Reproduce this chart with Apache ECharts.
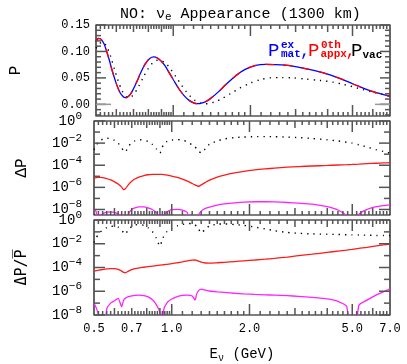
<!DOCTYPE html>
<html>
<head>
<meta charset="utf-8">
<script src="https://cdn.jsdelivr.net/npm/echarts@6/dist/echarts.min.js"></script>
<style>
  html, body { margin: 0; padding: 0; background: #fff; }
  #chart { width: 407px; height: 364px; }
</style>
</head>
<body>
<div id="chart"></div>
<script>
// neutrino energy (GeV)
const energy = [
  0.50, 0.51, 0.52, 0.53, 0.54, 0.56, 0.58, 0.60, 0.62, 0.64,
  0.65, 0.66, 0.68, 0.70, 0.72, 0.75, 0.78, 0.81, 0.84, 0.87,
  0.90, 0.915, 0.93, 0.96, 1.00, 1.05, 1.10, 1.15, 1.20, 1.23,
  1.25, 1.27, 1.30, 1.35, 1.40, 1.50, 1.60, 1.75, 1.90, 2.10,
  2.30, 2.50, 2.80, 3.10, 3.50, 4.00, 4.40, 4.76, 5.00, 5.30,
  5.70, 6.20, 6.60, 7.00
];
// top panel: probabilities (P_mat and P_appx^0th coincide on this scale)
const pMat = [
  0.118, 0.1245, 0.124, 0.1194, 0.112, 0.088, 0.0616, 0.0392, 0.0225, 0.0140,
  0.0128, 0.0133, 0.0189, 0.0294, 0.042, 0.0616, 0.0773, 0.0869, 0.0898, 0.0872,
  0.0811, 0.077, 0.0726, 0.0615, 0.047, 0.030, 0.0171, 0.008, 0.0028, 0.0015,
  0.0013, 0.0015, 0.0026, 0.0061, 0.0113, 0.0236, 0.037, 0.0538, 0.0656, 0.0736,
  0.0754, 0.0752, 0.0735, 0.070, 0.0645, 0.057, 0.050, 0.0435, 0.039, 0.034,
  0.028, 0.022, 0.0185, 0.0152
];
const pVac = [
  0.106, 0.111, 0.116, 0.118, 0.1157, 0.101, 0.0786, 0.0552, 0.035, 0.0207,
  0.0163, 0.0138, 0.0137, 0.0186, 0.027, 0.0432, 0.059, 0.0717, 0.0802, 0.0835,
  0.0824, 0.0806, 0.0781, 0.0717, 0.0596, 0.0443, 0.0302, 0.0183, 0.0096, 0.0059,
  0.0041, 0.0027, 0.0014, 0.0011, 0.0023, 0.0075, 0.0147, 0.0261, 0.0354, 0.0442,
  0.0489, 0.0506, 0.0505, 0.049, 0.0465, 0.0435, 0.040, 0.036, 0.0335, 0.030,
  0.0258, 0.0215, 0.0185, 0.0158
];
// middle panel: exponent (log10) of |dP|; -12 marks a zero crossing
const dPvacExp = [
  -2.6, -2.2, -1.9, -1.75, -1.65, -1.55, -1.6, -1.75, -2.0, -2.4,
  -2.7, -2.8, -2.3, -1.95, -1.8, -1.7, -1.72, -1.85, -2.1, -2.5,
  -2.9, -2.5, -2.1, -1.85, -1.72, -1.68, -1.72, -1.9, -2.15, -2.35,
  -2.5, -2.7, -2.9, -2.5, -2.1, -1.8, -1.62, -1.5, -1.45, -1.42,
  -1.41, -1.42, -1.45, -1.5, -1.58, -1.7, -1.8, -1.92, -2.0, -2.15,
  -2.35, -2.6, -2.75, -2.9
];
const dP0thExp = [
  -5.18, -5.12, -5.1, -5.1, -5.12, -5.2, -5.33, -5.5, -5.7, -5.98,
  -6.2, -6.15, -5.75, -5.45, -5.25, -5.05, -4.93, -4.86, -4.83, -4.82,
  -4.82, -4.83, -4.85, -4.9, -4.98, -5.1, -5.25, -5.43, -5.65, -5.77,
  -5.84, -5.9, -5.78, -5.55, -5.35, -5.08, -4.9, -4.7, -4.55, -4.42,
  -4.33, -4.26, -4.18, -4.12, -4.07, -4.02, -3.98, -3.95, -3.93, -3.9,
  -3.86, -3.82, -3.79, -3.77
];
const dP1stExp = [
  -7.95, -8.2, -12, -8.6, -8.4, -8.25, -8.22, -8.27, -8.4, -8.7,
  -9.0, -12, -8.4, -8.0, -7.85, -7.76, -7.76, -7.85, -8.0, -8.25,
  -9.0, -12, -8.6, -8.2, -8.02, -7.99, -8.05, -8.3, -12, -8.7,
  -12, -8.5, -8.15, -7.9, -7.78, -7.6, -7.5, -7.4, -7.33, -7.3,
  -7.3, -7.32, -7.37, -7.43, -7.52, -7.75, -8.05, -8.6, -12, -8.45,
  -8.0, -7.75, -7.65, -7.58
];
// bottom panel: exponent (log10) of |dP| / P-bar
const rVacExp = [
  -1.9, -1.5, -1.2, -1.0, -0.85, -0.65, -0.55, -0.5, -0.6, -0.85,
  -1.05, -1.2, -0.8, -0.55, -0.42, -0.38, -0.45, -0.65, -0.95, -1.5,
  -2.2, -1.8, -1.4, -0.95, -0.7, -0.5, -0.38, -0.3, -0.3, -0.4,
  -0.55, -0.75, -1.1, -0.75, -0.5, -0.35, -0.33, -0.38, -0.45, -0.6,
  -0.75, -0.9, -1.05, -1.12, -1.17, -1.2, -1.22, -1.24, -1.25, -1.26,
  -1.28, -1.3, -1.31, -1.32
];
const r0thExp = [
  -4.31, -4.27, -4.23, -4.2, -4.17, -4.12, -4.1, -4.1, -4.15, -4.3,
  -4.4, -4.44, -4.3, -4.18, -4.1, -4.03, -3.98, -3.93, -3.88, -3.84,
  -3.8, -3.78, -3.77, -3.73, -3.68, -3.6, -3.52, -3.44, -3.38, -3.37,
  -3.4, -3.46, -3.55, -3.62, -3.63, -3.6, -3.56, -3.5, -3.44, -3.37,
  -3.3, -3.23, -3.12, -3.0, -2.88, -2.73, -2.62, -2.53, -2.47, -2.39,
  -2.3, -2.18, -2.1, -2.02
];
const r1stExp = [
  -7.0, -7.4, -7.9, -8.4, -12, -7.5, -7.0, -6.8, -6.6, -7.3,
  -6.8, -6.6, -6.45, -6.38, -6.34, -6.33, -6.36, -6.48, -6.7, -7.1,
  -7.8, -12, -7.6, -6.95, -6.65, -6.45, -6.35, -6.32, -6.4, -6.75,
  -6.2, -5.95, -5.82, -5.9, -5.98, -6.05, -6.1, -6.17, -6.22, -6.27,
  -6.3, -6.33, -6.37, -6.43, -6.52, -6.65, -6.85, -7.3, -12, -7.2,
  -6.75, -6.3, -6.05, -5.8
];

// ticks and labels
const xLabels = [0.5, 0.7, 1.0, 2.0, 5.0, 7.0];
const xTickMajor = [1, 2, 5];
const xTickMid = [0.6, 0.7, 0.8, 0.9, 3, 4, 6];
const xTickMinor = [
  0.52, 0.54, 0.56, 0.58, 0.62, 0.64, 0.66, 0.68, 0.72, 0.74, 0.76, 0.78,
  0.82, 0.84, 0.86, 0.88, 0.92, 0.94, 0.96, 0.98,
  1.1, 1.2, 1.3, 1.4, 1.5, 1.6, 1.7, 1.8, 1.9,
  2.2, 2.4, 2.6, 2.8, 3.2, 3.4, 3.6, 3.8, 4.2, 4.4, 4.6, 4.8,
  5.2, 5.4, 5.6, 5.8, 6.2, 6.4, 6.6, 6.8
];
const pTickMajor = [0, 0.05, 0.1, 0.15];
const pTickMinor = [-0.02, -0.01, 0.01, 0.02, 0.03, 0.04, 0.06, 0.07, 0.08, 0.09, 0.11, 0.12, 0.13, 0.14];
const expTickMajor = [-8, -6, -4, -2, 0];
const expTickMinor = [-7, -5, -3, -1];

const FONT = '"Liberation Mono", "DejaVu Sans Mono", monospace';
const lg = Math.log10;
const xMin = lg(0.5), xMax = lg(7);
const yRange = [[-0.022, 0.15], [-8.5, 0], [-8, 0]];

const grids = [
  { top: 25, height: 91 },
  { top: 121, height: 94 },
  { top: 220, height: 99 }
].map(g => Object.assign({ left: 94, right: 17, show: true, borderColor: '#000', borderWidth: 1.2 }, g));

const hideTick = { show: false };
const expLabel = {
  show: true, margin: 12, customValues: expTickMajor, color: '#000',
  formatter: v => '{b|10}{s|' + (Math.round(v) === 0 ? '0' : '\u2212' + Math.round(-v)) + '}',
  rich: {
    b: { fontFamily: FONT, fontSize: 14, color: '#000' },
    s: { fontFamily: FONT, fontSize: 11, color: '#000', padding: [0, 0, 10, 0] }
  }
};
const nameStyle = { fontFamily: FONT, fontSize: 16, color: '#000' };

const xAxes = [0, 1, 2].map(g => ({
  type: 'value', gridIndex: g, min: xMin, max: xMax,
  axisLine: { show: false, onZero: false }, axisTick: hideTick, splitLine: { show: false },
  axisLabel: g < 2 ? { show: false } : {
    show: true, margin: 8, customValues: xLabels.map(lg), color: '#000',
    fontFamily: FONT, fontSize: 12, formatter: v => Math.pow(10, v).toFixed(1)
  },
  name: g < 2 ? '' : '{a|E}{s|\u03bd}{a| (GeV)}', nameLocation: 'middle', nameGap: 30,
  nameTextStyle: { rich: {
    a: { fontFamily: FONT, fontSize: 14, color: '#000' },
    s: { fontFamily: FONT, fontSize: 10, color: '#000', padding: [8, 0, 0, 0] }
  } }
}));

const yAxes = [
  {
    type: 'value', gridIndex: 0, min: yRange[0][0], max: yRange[0][1],
    axisLine: { show: false, onZero: false }, axisTick: hideTick, splitLine: { show: false },
    name: 'P', nameLocation: 'middle', nameGap: 72, nameTextStyle: nameStyle,
    axisLabel: { show: true, margin: 6, customValues: pTickMajor, color: '#000',
      fontFamily: FONT, fontSize: 12, formatter: v => v.toFixed(2) }
  },
  {
    type: 'value', gridIndex: 1, min: yRange[1][0], max: yRange[1][1],
    axisLine: { show: false, onZero: false }, axisTick: hideTick, splitLine: { show: false },
    name: '\u0394P', nameLocation: 'middle', nameGap: 64, nameTextStyle: nameStyle,
    axisLabel: expLabel
  },
  {
    type: 'value', gridIndex: 2, min: yRange[2][0], max: yRange[2][1],
    axisLine: { show: false, onZero: false }, axisTick: hideTick, splitLine: { show: false },
    name: '\u0394P/P\u0305', nameLocation: 'middle', nameGap: 64,
    nameTextStyle: Object.assign({}, nameStyle, { fontFamily: '"DejaVu Sans Mono", monospace', fontSize: 15 }),
    axisLabel: expLabel
  }
];

function pts(vals) {
  return energy.map((e, i) => [lg(e), vals[i]]);
}
function line(g, vals, color, dash, width, z, smooth) {
  return {
    type: 'line', xAxisIndex: g, yAxisIndex: g,
    data: pts(vals), symbol: 'none', smooth: smooth, z: z, silent: true,
    lineStyle: { color: color, width: width, type: dash, cap: 'butt' }
  };
}
const DOT = [1.3, 5];

// frame ticks on all four sides, placed through each grid's own axes
function tickSeries(g, yMajor, yMinor, yMajorLen, yMinorLen, grayZero) {
  const data = [];
  xTickMajor.forEach(v => data.push([lg(v), 0, 11]));
  xTickMid.forEach(v => data.push([lg(v), 0, 7]));
  xTickMinor.forEach(v => data.push([lg(v), 0, 4]));
  yMajor.forEach(v => data.push([v, 1, yMajorLen]));
  yMinor.forEach(v => data.push([v, 1, yMinorLen]));
  if (grayZero) data.push([0, 2, 15]);
  const yMid = (yRange[g][0] + yRange[g][1]) / 2;
  return {
    type: 'custom', xAxisIndex: g, yAxisIndex: g, silent: true, z: 6,
    encode: { x: -1, y: -1 },
    data: data,
    renderItem: (params, api) => {
      const cs = params.coordSys;
      const v = api.value(0), kind = api.value(1), len = api.value(2);
      const style = { stroke: kind === 2 ? '#999' : '#555', lineWidth: 1.5 };
      if (kind === 0) {
        const px = api.coord([v, yMid])[0];
        return { type: 'group', children: [
          { type: 'line', shape: { x1: px, y1: cs.y + cs.height, x2: px, y2: cs.y + cs.height - len }, style: style },
          { type: 'line', shape: { x1: px, y1: cs.y, x2: px, y2: cs.y + len }, style: style }
        ] };
      }
      const py = api.coord([xMin, v])[1];
      return { type: 'group', children: [
        { type: 'line', shape: { x1: cs.x, y1: py, x2: cs.x + len, y2: py }, style: style },
        { type: 'line', shape: { x1: cs.x + cs.width, y1: py, x2: cs.x + cs.width - len, y2: py }, style: style }
      ] };
    }
  };
}

const series = [
  line(0, pVac, '#000', DOT, 1.4, 2, 0.4),
  line(0, pMat, '#0000ff', 'solid', 1.3, 3, 0.4),
  line(0, pMat, '#ff0000', [9, 9], 1.3, 4, 0.4),
  line(1, dPvacExp, '#000', DOT, 1.4, 2, 0.2),
  line(1, dP0thExp, '#ff1a1a', 'solid', 1.3, 3, 0.3),
  line(1, dP1stExp, '#ff22ff', 'solid', 1.3, 3, 0.2),
  line(2, rVacExp, '#000', DOT, 1.4, 2, 0.2),
  line(2, r0thExp, '#ff1a1a', 'solid', 1.3, 3, 0.3),
  line(2, r1stExp, '#ff22ff', 'solid', 1.3, 3, 0.2),
  tickSeries(0, pTickMajor, pTickMinor, 10, 5, true),
  tickSeries(1, expTickMajor, expTickMinor, 11, 6, false),
  tickSeries(2, expTickMajor, expTickMinor, 11, 6, false)
];

// legend text (P^ex_mat, P^0th_appx, P_vac)
function txt(x, y, text, color, size, bold) {
  return { type: 'text', x: x, y: y, silent: true, z: 10,
    style: { text: text, fill: color, font: (bold ? 'bold ' : '') + size + 'px ' + FONT, textVerticalAlign: 'middle' } };
}
const legendText = [
  txt(268, 51, 'P', '#0000ff', 19), txt(281, 45, 'ex', '#0000ff', 11, true), txt(281, 54.5, 'mat', '#0000ff', 11, true),
  txt(300, 51, ',', '#0000ff', 17),
  txt(308, 51, 'P', '#ff0000', 19), txt(321, 45, '0th', '#ff0000', 11, true), txt(320.5, 54.5, 'appx', '#ff0000', 11, true),
  txt(345.5, 51, ',', '#ff0000', 17),
  txt(351, 51, 'P', '#000', 19), txt(362.5, 55, 'vac', '#000', 11, true)
];

const chart = echarts.init(document.getElementById('chart'));
chart.setOption({
  animation: false,
  backgroundColor: '#fff',
  title: {
    text: '{a|NO: \u03bd}{s|e}{a| Appearance (1300 km)}',
    left: 115, top: 0,
    textStyle: { fontWeight: 'normal', rich: {
      a: { fontFamily: FONT, fontSize: 15, color: '#000', fontWeight: 'normal' },
      s: { fontFamily: FONT, fontSize: 11, color: '#000', fontWeight: 'normal', padding: [7, 0, 0, 0] }
    } }
  },
  grid: grids,
  xAxis: xAxes,
  yAxis: yAxes,
  series: series,
  graphic: legendText
});
</script>
</body>
</html>
